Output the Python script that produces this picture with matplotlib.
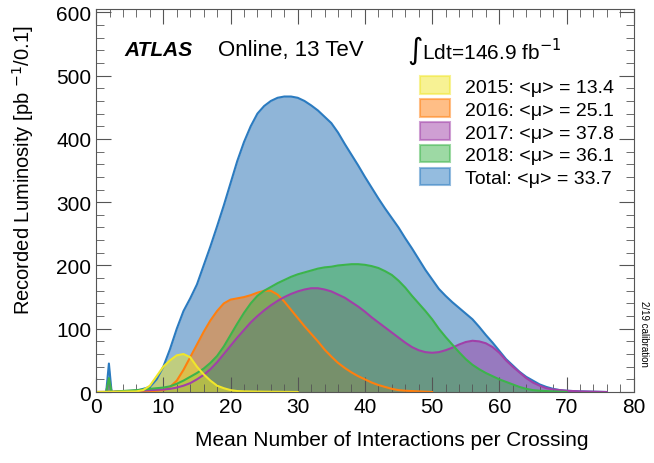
import numpy as np
import matplotlib.pyplot as plt
from matplotlib.patches import Patch
from matplotlib.ticker import MultipleLocator

plt.rcParams['font.family'] = ['Liberation Sans', 'DejaVu Sans']

# Total
x_tot = [0, 1.5, 1.9, 2.3, 3, 6, 8, 9, 10, 11, 12, 13, 14, 15, 16, 17, 18, 19, 20, 21, 22, 23, 24, 25,
         26, 27, 28, 29, 30, 31, 32, 33, 34, 35, 36, 37, 38, 39, 40, 41, 42, 43, 44, 45, 46, 47, 48,
         49, 50, 51, 52, 53, 54, 55, 56, 57, 58, 59, 60, 61, 62, 63, 64, 65, 66, 67, 68, 69, 70, 72, 76]
y_tot = [0, 0, 45, 0, 0, 2, 8, 20, 40, 68, 100, 128, 148, 170, 200, 230, 262, 295, 330, 365, 395, 420,
         440, 452, 460, 465, 467, 467, 465, 460, 453, 445, 435, 425, 410, 392, 375, 358, 340, 323, 306,
         290, 275, 260, 243, 227, 210, 193, 178, 163, 152, 142, 133, 124, 115, 103, 90, 78, 65, 52, 42,
         32, 24, 18, 12, 8, 5, 3, 2, 1, 0]

# 2018
x_18 = [0, 1.5, 1.9, 2.3, 3, 6, 8, 10, 11, 12, 13, 14, 15, 16, 17, 18, 19, 20, 21, 22, 23, 24, 25, 26,
        27, 28, 29, 30, 31, 32, 33, 34, 35, 36, 37, 38, 39, 40, 41, 42, 43, 44, 45, 46, 47, 48, 49, 50,
        51, 52, 53, 54, 55, 56, 57, 58, 59, 60, 61, 62, 63, 64, 65, 66, 68, 70]
y_18 = [0, 0, 22, 0, 1, 3, 5, 7, 9, 13, 18, 24, 30, 37, 46, 57, 72, 90, 108, 125, 140, 152, 160, 166,
        172, 177, 182, 186, 189, 192, 195, 197, 198, 200, 201, 202, 202, 201, 199, 196, 191, 185, 176,
        165, 152, 140, 128, 115, 100, 87, 75, 63, 52, 43, 36, 30, 25, 20, 16, 12, 8, 5, 3, 2, 1, 0]

# 2017
x_17 = [0, 1.5, 1.9, 2.3, 3, 6, 8, 10, 11, 12, 13, 14, 15, 16, 17, 18, 19, 20, 21, 22, 23, 24, 25, 26,
        27, 28, 29, 30, 31, 32, 33, 34, 35, 36, 37, 38, 39, 40, 41, 42, 43, 44, 45, 46, 47, 48, 49, 50,
        51, 52, 53, 54, 55, 56, 57, 58, 59, 60, 61, 62, 63, 64, 65, 66, 67, 68, 70, 72, 76]
y_17 = [0, 0, 20, 0, 1, 2, 3, 4, 5, 7, 10, 14, 20, 27, 36, 47, 60, 73, 86, 98, 110, 120, 129, 137, 144,
        150, 155, 159, 162, 164, 164, 162, 159, 154, 149, 142, 135, 127, 118, 110, 102, 94, 86, 78, 71,
        66, 63, 62, 63, 66, 70, 75, 79, 81, 80, 77, 71, 62, 50, 40, 31, 22, 15, 10, 6, 4, 2, 1, 0]

# 2016
x_16 = [0, 8, 10, 11, 12, 13, 14, 15, 16, 17, 18, 19, 20, 21, 22, 23, 24, 25, 26, 27, 28, 29, 30, 31,
        32, 33, 34, 35, 36, 37, 38, 39, 40, 41, 42, 43, 44, 45, 46, 48, 50]
y_16 = [0, 1, 3, 8, 18, 35, 55, 75, 95, 113, 128, 140, 146, 148, 150, 153, 157, 160, 160, 154, 143,
        130, 117, 104, 92, 80, 67, 56, 46, 38, 31, 25, 20, 15, 11, 8, 5, 3, 2, 1, 0]

# 2015
x_15 = [0, 6, 7, 8, 9, 10, 11, 12, 13, 14, 15, 16, 17, 18, 19, 20, 21, 22, 25, 30]
y_15 = [0, 1, 3, 10, 25, 40, 50, 58, 60, 55, 40, 28, 18, 10, 6, 3, 1.5, 1, 0.5, 0]

labels = ['2015: <\u03bc> = 13.4', '2016: <\u03bc> = 25.1', '2017: <\u03bc> = 37.8',
          '2018: <\u03bc> = 36.1', 'Total: <\u03bc> = 33.7']

c_tot = '#2b7bc0'
c_18 = '#3cb44b'
c_17 = '#a040a8'
c_16 = '#ff7f0e'
c_15 = '#f0e62a'

fig = plt.figure(figsize=(6.54, 4.64), dpi=100)
ax = fig.add_axes([0.147, 0.153, 0.822, 0.825])

# draw order: total at the back, then the years
series = [(x_tot, y_tot, c_tot, '#8fb5d8', 1.0),
          (x_16, y_16, c_16, c_16, 0.5),
          (x_17, y_17, c_17, c_17, 0.5),
          (x_18, y_18, c_18, c_18, 0.5),
          (x_15, y_15, c_15, c_15, 0.5)]
for xs, ys, lc, fc, a in series:
    ax.fill_between(xs, ys, 0, color=fc, alpha=a, lw=0)
for xs, ys, lc, fc, a in series:
    ax.plot(xs, ys, color=lc, lw=1.5)

ax.set_xlim(0, 80)
ax.set_ylim(0, 605)
ax.xaxis.set_major_locator(MultipleLocator(10))
ax.xaxis.set_minor_locator(MultipleLocator(2))
ax.yaxis.set_major_locator(MultipleLocator(100))
ax.yaxis.set_minor_locator(MultipleLocator(20))
ax.tick_params(which='both', direction='in', top=True, right=True, labelsize=15, color='#555555')
ax.tick_params(which='major', length=11)
ax.tick_params(which='minor', length=6)
for s in ax.spines.values():
    s.set_color('#555555')

ax.set_xlabel('Mean Number of Interactions per Crossing', fontsize=15, ha='right')
ax.xaxis.set_label_coords(0.915, -0.1)
ax.set_ylabel('Recorded Luminosity [pb $^{-1}$/0.1]', fontsize=14.5)
ax.yaxis.set_label_coords(-0.112, 0.582)

ax.text(0.053, 0.895, 'ATLAS', transform=ax.transAxes, fontsize=15, fontweight='bold',
        fontstyle='italic', va='center')
ax.text(0.226, 0.895, 'Online, 13 TeV', transform=ax.transAxes, fontsize=16, va='center')
ax.text(0.578, 0.895, r'$\int$Ldt=146.9 fb$^{-1}$', transform=ax.transAxes, fontsize=15, va='center')

handles = [Patch(facecolor=c, edgecolor=c, alpha=a, lw=1.5)
           for c, a in [(c_15, 0.5), (c_16, 0.5), (c_17, 0.5), (c_18, 0.5), (c_tot, 0.5)]]
ax.legend(handles, labels, loc='upper left', bbox_to_anchor=(0.57, 0.87), frameon=False,
          fontsize=14, handlelength=1.55, handleheight=1.0, handletextpad=0.75, labelspacing=0.18)

fig.text(0.985, 0.28, '2/19 calibration', rotation=-90, fontsize=7, ha='center', va='center')

fig.savefig('out.png', dpi=100)
